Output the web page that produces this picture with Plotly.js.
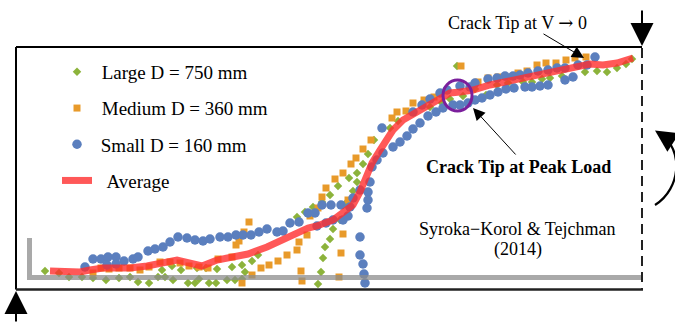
<!DOCTYPE html>
<html>
<head>
<meta charset="utf-8">
<script src="https://cdn.plot.ly/plotly-3.0.1.min.js"></script>
<style>html,body{margin:0;padding:0;background:#fff;}#chart{width:675px;height:323px;}</style>
</head>
<body>
<div id="chart"></div>
<script>
// Crack-profile points (horizontal position, vertical position in figure units)
const largeX = [45,59,69,82,93,106,119,130,138,149,158,165,173,188,195,199,209,216,227,235,242,162,172,181,197,206,217,232,242,245,252,258,297,305,313,322,330,338,349,357,363,368,374,318,321,323,325,330,333,340,345,353,357,390,398,430,442,450,463,457,475,486,497,508,523,532,542,550,562,585,597,607,617,626,632];
const largeY = [271,273,277,277,278,280,278,277,282,283,277,277,280,283,283,279,283,283,280,280,279,270,266,270,268,268,269,267,265,272,261,255,217,212,207,202,195,186,178,173,164,154,140,284,272,258,247,239,229,220,204,191,182,128,121,107,103,99,96,66,89,95,85,83,82,82,79,78,76,72,71,72,68,64,59];

const mediumX = [93,101,109,119,130,140,149,160,170,180,189,199,208,218,232,236,239,244,249,242,252,261,269,278,287,297,299,307,310,318,322,326,335,343,351,356,363,371,301,302,339,341,343,348,392,397,406,413,424,434,461,478,488,498,508,518,527,537,546,556,566,575,586];
const mediumY = [273,268,269,268,268,270,267,262,262,263,266,267,268,259,257,245,241,232,222,283,275,268,265,261,255,250,242,235,216,208,197,188,179,173,164,158,149,140,271,281,277,253,234,200,118,112,111,103,100,97,66,82,78,77,77,73,71,65,63,63,60,58,57];

const smallX = [85,93,101,108,116,124,133,138,148,155,163,170,178,187,195,203,210,220,228,236,243,251,259,267,277,283,290,299,308,315,322,331,341,350,353,360,368,370,368,367,360,360,363,364,365,317,326,333,343,348,107,116,372,377,383,382,393,400,407,413,420,428,436,443,453,460,468,475,482,490,498,506,514,525,532,540,548,565,573,413,422,430,440,447,460,470,475,488,497,505,513,520,528,538,548,557,565,578,587,595];
const smallY = [267,259,259,257,257,261,259,257,251,249,247,242,237,238,240,241,239,237,237,235,235,235,232,229,232,231,223,222,213,213,205,205,205,207,198,190,192,182,200,208,237,255,264,274,283,226,223,220,220,216,265,264,167,160,153,128,147,142,136,129,123,116,112,108,105,105,103,100,98,95,92,89,88,87,87,86,85,80,77,112,105,99,93,90,86,87,83,79,78,76,76,75,73,71,70,68,68,65,65,57];

const avgX = [50,65,80,90,103,130,147,177,202,217,230,248,267,287,308,317,333,345,353,360,367,372,380,393,403,420,437,450,460,473,490,513,537,560,580,590,603,617,633];
const avgY = [271,272,272,270,268,268,266,260,266,260,257,254,247,237,228,226,220,211,205,192,177,163,150,130,120,110,100,93,92,90,85,80,75,70,66,64,65,63,58];

const seriesNames = ["Large D = 750 mm", "Medium D = 360 mm", "Small D = 160 mm", "Average"];

const serif = "Liberation Serif, Times New Roman, serif";
const NB = "\u00a0";

const traces = [
  {x: largeX, y: largeY, name: NB + seriesNames[0], type: "scatter", mode: "markers", legendgroup: "a",
   marker: {symbol: "diamond", size: 6.5, color: "#8cb33b"}},
  {x: mediumX, y: mediumY, name: NB + seriesNames[1], type: "scatter", mode: "markers", legendgroup: "b",
   marker: {symbol: "square", size: 7, color: "#e89a2a"}},
  {x: smallX, y: smallY, name: "\u2009" + seriesNames[2], type: "scatter", mode: "markers", legendgroup: "c",
   marker: {symbol: "circle", size: 9.5, color: "#5b7fbe"}},
  {x: avgX, y: avgY, name: NB + NB + seriesNames[3], type: "scatter", mode: "lines", legendgroup: "d",
   line: {color: "#ff2e2e", width: 7}, opacity: 0.8}
];

const arrow = (x, y, ax, ay, w, s) => ({x: x, y: y, ax: ax, ay: ay, xref: "x", yref: "y", axref: "x", ayref: "y",
  text: "", showarrow: true, arrowhead: 2, arrowwidth: w, arrowsize: s, arrowcolor: "#000", standoff: 0, startstandoff: 0});
const label = (x, y, txt, bold) => ({x: x, y: y, xref: "x", yref: "y", text: bold ? "<b>" + txt + "</b>" : txt,
  showarrow: false, font: {family: serif, size: 18, color: "#000"}, xanchor: "center", yanchor: "middle"});

const layout = {
  width: 675, height: 323, autosize: false,
  margin: {l: 0, r: 0, t: 0, b: 0, pad: 0},
  paper_bgcolor: "#fff", plot_bgcolor: "#fff",
  hovermode: false,
  xaxis: {range: [0, 675], visible: false, showgrid: false, zeroline: false, fixedrange: true},
  yaxis: {range: [323, 0], visible: false, showgrid: false, zeroline: false, fixedrange: true},
  showlegend: true,
  legend: {x: 57/675, y: 1 - 53/323, xanchor: "left", yanchor: "top", bgcolor: "rgba(0,0,0,0)",
           font: {family: serif, size: 19, color: "#000"}, tracegroupgap: 8.5, itemsizing: "trace",
           traceorder: "grouped"},
  shapes: [
    {type: "line", xref: "x", yref: "y", x0: 16, y0: 47, x1: 642, y1: 47, line: {color: "#000", width: 2}, layer: "below"},
    {type: "line", xref: "x", yref: "y", x0: 16, y0: 47, x1: 16, y1: 289.5, line: {color: "#000", width: 2}, layer: "below"},
    {type: "line", xref: "x", yref: "y", x0: 16, y0: 289.5, x1: 643, y1: 289.5, line: {color: "#222", width: 2.5}, layer: "below"},
    {type: "line", xref: "x", yref: "y", x0: 642, y0: 48, x1: 642, y1: 289.5, line: {color: "#222", width: 2, dash: "10px,6px"}, layer: "below"},
    {type: "path", xref: "x", yref: "y", path: "M 29.5 238 L 29.5 277.5 L 641 277.5",
     line: {color: "rgba(140,140,140,0.75)", width: 5}, layer: "above"},
    {type: "circle", xref: "x", yref: "y", x0: 443, x1: 472, y0: 80, y1: 111, line: {color: "#7b1f9c", width: 3}, layer: "above"},
    {type: "path", xref: "x", yref: "y", path: "M 655 205 C 681.8 188.3 682.8 148.4 661 135",
     line: {color: "#000", width: 2.2}, layer: "above"}
  ],
  annotations: [
    arrow(642, 46, 642, 9, 2, 2.3),
    arrow(16, 291, 16, 323, 2, 2.3),
    arrow(655, 130.5, 668, 139, 2, 2.2),
    arrow(584, 58, 542, 33, 1, 2.4),
    arrow(473, 108, 517, 156, 1, 2.4),
    label(517, 22, "Crack Tip at V <span style='font-family:DejaVu Serif'>\u2192</span> 0", false),
    label(518, 167, "Crack Tip at Peak Load", true),
    label(517.5, 229, "Syroka\u2212Korol &amp; Tejchman", false),
    label(517.5, 249.5, "(2014)", false)
  ]
};

Plotly.newPlot("chart", traces, layout, {staticPlot: true, displayModeBar: false});
</script>
</body>
</html>
